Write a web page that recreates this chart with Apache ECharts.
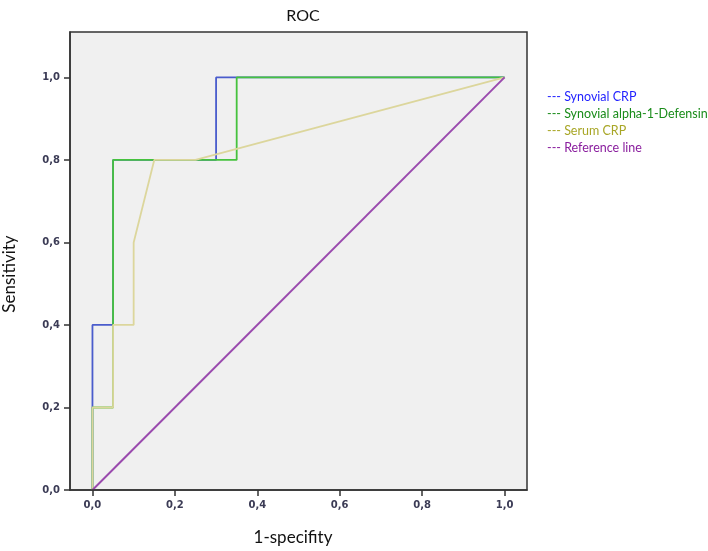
<!DOCTYPE html>
<html>
<head>
<meta charset="utf-8">
<script src="https://cdn.jsdelivr.net/npm/echarts@6/dist/echarts.min.js"></script>
<style>html,body{margin:0;padding:0;background:#fff}#c{width:708px;height:551px}</style>
</head>
<body>
<div id="c"></div>
<script>
const seriesNames = ['Synovial CRP', 'Synovial alpha-1-Defensin', 'Serum CRP', 'Reference line'];
const synovialCRP = [[0,0],[0,0.4],[0.05,0.4],[0.05,0.8],[0.3,0.8],[0.3,1.0],[1.0,1.0]];
const synovialDefensin = [[0,0],[0,0.2],[0.05,0.2],[0.05,0.8],[0.35,0.8],[0.35,1.0],[1.0,1.0]];
const serumCRP = [[0,0],[0,0.2],[0.05,0.2],[0.05,0.4],[0.1,0.4],[0.1,0.6],[0.15,0.8],[0.25,0.8],[1.0,1.0]];
const referenceLine = [[0,0],[1,1]];
const tickValues = [0, 0.2, 0.4, 0.6, 0.8, 1.0];

const lineColors = ['#4a5ccc', '#46c23e', '#dcd69c', '#9a4aae'];
const legendColors = ['#1f1fff', '#1a8c1a', '#a8a626', '#8a1e9e'];
const allData = [synovialCRP, synovialDefensin, serumCRP, referenceLine];

const chart = echarts.init(document.getElementById('c'));
const fmt = v => v.toFixed(1).replace('.', ',');

function makeAxis(min, max) {
  return {
    type: 'value', min: min, max: max, z: 10,
    axisLine: {show: true, onZero: false, lineStyle: {color: '#333333', width: 1.5}},
    splitLine: {show: false},
    axisTick: {show: true, length: 6, lineStyle: {color: '#333333', width: 1.5}, customValues: tickValues},
    axisLabel: {customValues: tickValues, formatter: fmt, margin: 10,
      fontFamily: 'DejaVu Sans', fontSize: 10, fontWeight: 'bold', color: '#3b3b55'}
  };
}

chart.setOption({
  animation: false,
  title: {
    text: 'ROC', left: 298, top: 3, textAlign: 'center',
    textStyle: {fontFamily: 'Lato', fontSize: 16, fontWeight: 'normal', color: '#111'}
  },
  legend: {
    orient: 'vertical', left: 537, top: 85, itemGap: 4, icon: 'none',
    itemWidth: 0, itemHeight: 12,
    formatter: n => '--- ' + n,
    textStyle: {fontFamily: 'Lato', fontSize: 12.5},
    data: seriesNames.map((n, i) => ({name: n, textStyle: {color: legendColors[i]}}))
  },
  grid: {
    left: 70, right: 181, top: 32, bottom: 61,
    show: true, backgroundColor: '#f0f0f0', borderColor: '#333', borderWidth: 1.5
  },
  xAxis: makeAxis(-0.0545, 1.0545),
  yAxis: makeAxis(0, 1.11),
  graphic: [
    {type: 'text', style: {text: '1-specifity', fontFamily: 'Lato', fontSize: 17, fill: '#111', textAlign: 'center', textVerticalAlign: 'middle'}, x: 293, y: 538},
    {type: 'text', style: {text: 'Sensitivity', fontFamily: 'Lato', fontSize: 17, fill: '#111', textAlign: 'center', textVerticalAlign: 'middle'}, x: 10, y: 274, rotation: Math.PI / 2}
  ],
  series: seriesNames.map((n, i) => ({
    name: n, type: 'line', data: allData[i], showSymbol: false, clip: false,
    lineStyle: {color: lineColors[i], width: i === 3 ? 2 : 1.8},
    itemStyle: {color: lineColors[i]}
  }))
});
</script>
</body>
</html>
